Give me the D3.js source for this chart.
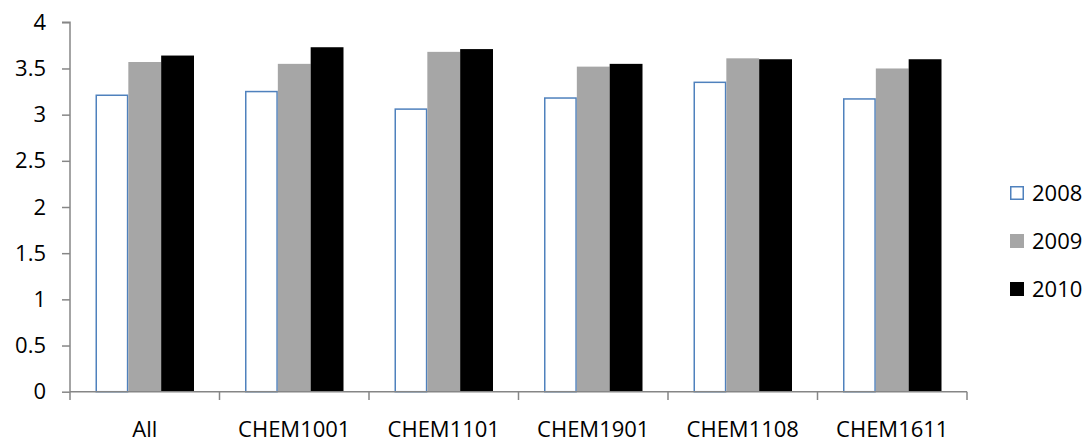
<!DOCTYPE html>
<html><head><meta charset="utf-8">
<script src="https://cdnjs.cloudflare.com/ajax/libs/d3/7.8.5/d3.min.js"></script>
<style>body{margin:0;background:#fff}svg{display:block}text{font-family:"Open Sans",sans-serif;fill:#000}</style>
</head><body><svg id="c" width="1086" height="445"></svg>
<script>
const categories = ["All","CHEM1001","CHEM1101","CHEM1901","CHEM1108","CHEM1611"];
const seriesNames = ["2008","2009","2010"];
const v2008 = [3.21,3.25,3.06,3.18,3.35,3.17];
const v2009 = [3.57,3.55,3.68,3.52,3.61,3.50];
const v2010 = [3.64,3.73,3.71,3.55,3.60,3.60];
const yTicks = [0,0.5,1,1.5,2,2.5,3,3.5,4];

const series = [v2008,v2009,v2010];
const fills = ["#ffffff","#a6a6a6","#000000"];
const strokes = ["#4f81bd","none","none"];
const svg = d3.select("#c");
const x = d3.scaleBand().domain(categories).range([70,967]);
const y = d3.scaleLinear().domain([0,4]).range([391.7,22.3]);
const gap = 25.5;
const x1 = d3.scaleBand().domain(seriesNames).range([0, x.bandwidth()-2*gap]);
const axisColor = "#868686";

// bars
categories.forEach((c,i)=>{
  seriesNames.forEach((s,j)=>{
    const v = series[j][i];
    svg.append("rect")
      .attr("x", x(c)+gap+x1(s) + (j===0?0.75:0))
      .attr("y", y(v))
      .attr("width", x1.bandwidth() - (j===0?1.5:0))
      .attr("height", y(0)-y(v))
      .attr("fill", fills[j])
      .attr("stroke", strokes[j])
      .attr("stroke-width", j===0?1.5:0);
  });
});

// y axis
const ya = svg.append("g").attr("transform","translate(70,0)")
  .call(d3.axisLeft(y).tickValues(yTicks).tickSize(8).tickPadding(16).tickFormat(d=>String(d)));
ya.select(".domain").attr("stroke",axisColor).attr("stroke-width",1.5).attr("d","M-8,22.3H0V391.7");
ya.selectAll(".tick line").attr("stroke",axisColor).attr("stroke-width",1.5);
ya.selectAll(".tick text").attr("font-size",22).attr("font-family","Open Sans").attr("fill","#000");

// x axis
const xa = svg.append("g").attr("transform","translate(0,391.7)")
  .call(d3.axisBottom(x).tickSize(0).tickPadding(30));
xa.select(".domain").attr("stroke",axisColor).attr("stroke-width",1.5).attr("d","M70,0H967");
xa.selectAll(".tick text").attr("font-size",22).attr("font-family","Open Sans").attr("fill","#000");
const bounds = categories.map(c=>x(c)).concat([x.range()[1]]);
svg.append("g").selectAll("line").data(bounds).join("line")
  .attr("x1",d=>d).attr("x2",d=>d).attr("y1",391.7).attr("y2",400)
  .attr("stroke",axisColor).attr("stroke-width",1.5);

// legend
const ly = [193,241,289];
const lg = svg.append("g");
seriesNames.forEach((s,j)=>{
  lg.append("rect").attr("x", j===0?1010.75:1010).attr("y", ly[j]-7+(j===0?0.75:0))
    .attr("width", j===0?12.5:14).attr("height", j===0?12.5:14)
    .attr("fill", fills[j]).attr("stroke", strokes[j]).attr("stroke-width", j===0?1.5:0);
  lg.append("text").attr("x",1032).attr("y",ly[j]).attr("dy","0.35em")
    .attr("font-size",22).text(s);
});
</script></body></html>
